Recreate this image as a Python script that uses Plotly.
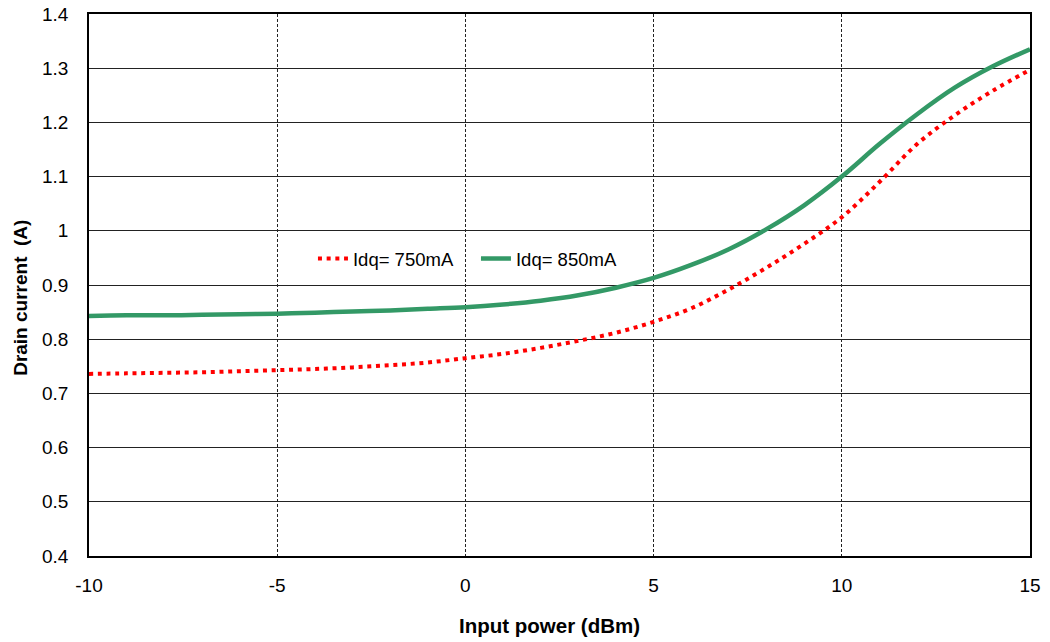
import plotly.graph_objects as go

x_dbm = [-10, -9, -8, -7, -6, -5, -4, -3, -2, -1, 0, 1, 2, 3, 4, 5, 6, 7, 8, 9, 10, 11, 12, 13, 14, 15]
idq_750 = [0.736, 0.737, 0.738, 0.739, 0.741, 0.743, 0.745, 0.748, 0.752, 0.757, 0.765, 0.773, 0.784,
           0.797, 0.812, 0.832, 0.857, 0.892, 0.932, 0.976, 1.025, 1.090, 1.160, 1.213, 1.258, 1.297]
idq_850 = [0.843, 0.844, 0.844, 0.845, 0.846, 0.847, 0.849, 0.851, 0.853, 0.856, 0.859, 0.864, 0.871,
           0.881, 0.895, 0.913, 0.937, 0.966, 1.003, 1.047, 1.100, 1.160, 1.215, 1.264, 1.303, 1.335]
x_ticks = [-10, -5, 0, 5, 10, 15]
x_labels = ["-10", "-5", "0", "5", "10", "15"]
y_ticks = [0.4, 0.5, 0.6, 0.7, 0.8, 0.9, 1.0, 1.1, 1.2, 1.3, 1.4]
y_labels = ["0.4", "0.5", "0.6", "0.7", "0.8", "0.9", "1", "1.1", "1.2", "1.3", "1.4"]
x_title = "Input power (dBm)"
y_title = "Drain current  (A)"

fig = go.Figure()
fig.add_trace(go.Scatter(x=x_dbm, y=idq_750, mode="lines", name="Idq= 750mA",
                         line=dict(color="#ff0000", width=4, dash="4px,4.7px", shape="spline")))
fig.add_trace(go.Scatter(x=x_dbm, y=idq_850, mode="lines", name="Idq= 850mA",
                         line=dict(color="#339966", width=4.5, shape="spline")))

font = "Liberation Sans, Arial, sans-serif"
fig.update_layout(
    width=1050, height=642,
    margin=dict(l=89, r=20, t=14, b=86),
    paper_bgcolor="white", plot_bgcolor="white",
    font=dict(family=font, size=19, color="black"),
    showlegend=True,
    legend=dict(orientation="h", x=0.238, y=0.548, xanchor="left", yanchor="middle",
                bgcolor="rgba(0,0,0,0)", font=dict(size=18.5),
                entrywidth=118, entrywidthmode="pixels", tracegroupgap=0),
    xaxis=dict(range=[-10, 15], tickvals=x_ticks, ticktext=x_labels, ticks="", showgrid=True,
               gridcolor="#222222", griddash="3px,2px", gridwidth=1,
               showline=True, linecolor="black", linewidth=1.5, mirror=True,
               zeroline=False, ticklabelstandoff=11, automargin=False),
    yaxis=dict(range=[0.4, 1.4], tickvals=y_ticks, ticktext=y_labels, ticks="",
               showgrid=True, gridcolor="#222222", gridwidth=1,
               showline=True, linecolor="black", linewidth=1.5, mirror=True,
               zeroline=False, ticklabelstandoff=15, automargin=False),
    annotations=[
        dict(text="<b>" + x_title + "</b>", xref="paper", yref="paper",
             x=(549.5 - 89) / 941, y=-0.128, xanchor="center", yanchor="middle", showarrow=False,
             font=dict(size=20.5)),
        dict(text="<b>" + y_title + "</b>", xref="paper", yref="paper",
             x=-0.0735, y=0.476, xanchor="center", yanchor="middle", showarrow=False,
             textangle=-90, font=dict(size=19)),
    ],
)
fig.write_html("out.html", config={"displayModeBar": False},
               post_script="document.body.style.margin='0';document.body.style.overflow='hidden';")
